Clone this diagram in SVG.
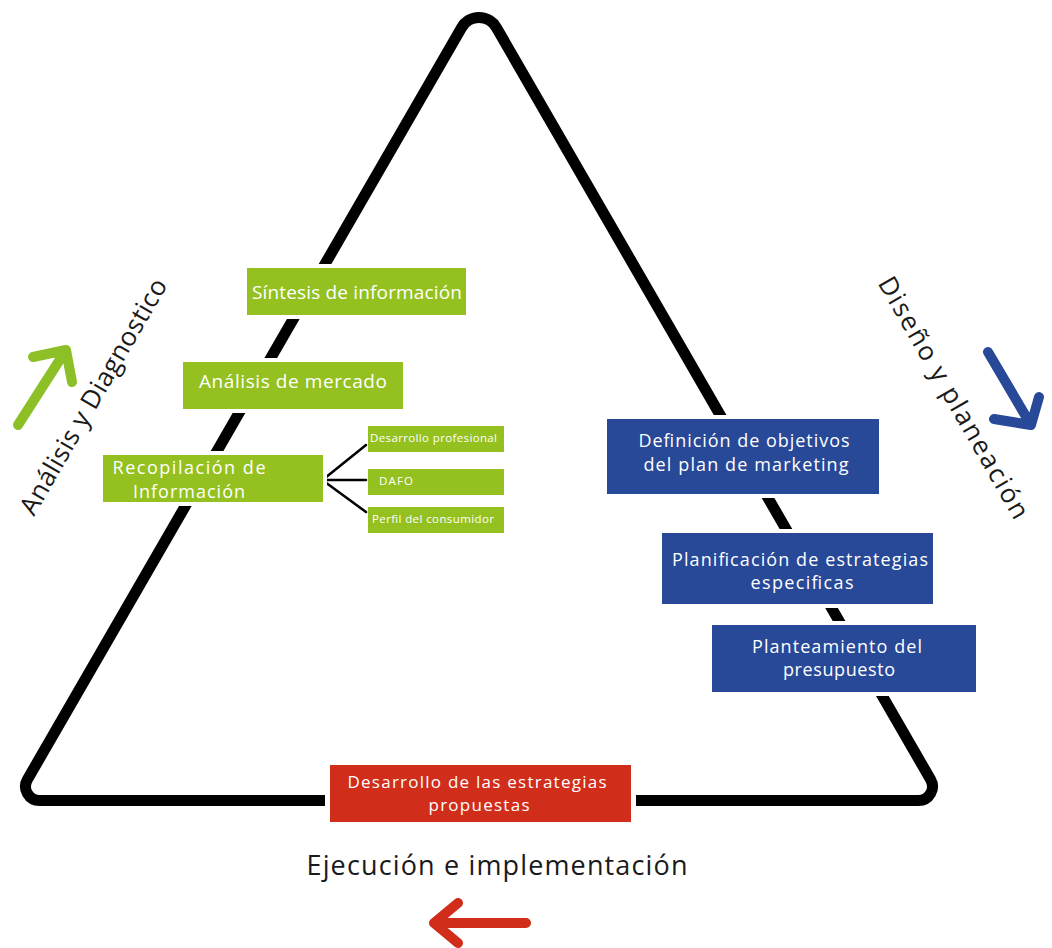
<svg xmlns="http://www.w3.org/2000/svg" width="1052" height="948" viewBox="0 0 1052 948">
<style>
.g{fill:#94c11f}
.b{fill:#284898}
.r{fill:#d02d1a}
.halo{fill:#fff}
.t{font-family:"Open Sans","Liberation Sans",sans-serif;fill:#fff}
.tl{font-family:"Open Sans","Liberation Sans",sans-serif;fill:#1a1a1a}
.arr{fill:none;stroke-width:10;stroke-linecap:round;stroke-linejoin:round}
</style>
<rect width="1052" height="948" fill="#fff"/>
<g id="triangle">
<path d="M461.68,27.4 A20,20 0 0 1 496.32,27.4 L930.58,779.5 A14,14 0 0 1 918.45,800.5 L39.55,800.5 A14,14 0 0 1 27.42,779.5 Z" fill="none" stroke="#000" stroke-width="11" stroke-linejoin="round"/>
</g>
<g id="connectors" stroke="#000" stroke-width="2.5" fill="none" stroke-linecap="round">
<line x1="325" y1="478" x2="366" y2="445"/>
<line x1="325" y1="480" x2="366" y2="480"/>
<line x1="325" y1="482" x2="366" y2="512"/>
</g>
<g id="sintesis">
<rect class="halo" x="243" y="264" width="227" height="55"/>
<rect class="g" x="247" y="268" width="219" height="47"/>
<text class="t" x="357" y="299" font-size="19" text-anchor="middle" textLength="210">Síntesis de información</text>
</g>
<g id="analisis-mercado">
<rect class="halo" x="179" y="358" width="228" height="55"/>
<rect class="g" x="183" y="362" width="220" height="47"/>
<text class="t" x="293" y="388" font-size="19" text-anchor="middle" textLength="188">Análisis de mercado</text>
</g>
<g id="recopilacion">
<rect class="halo" x="99" y="451" width="228" height="55"/>
<rect class="g" x="103" y="455" width="220" height="47"/>
<text class="t" x="189" y="474" font-size="18" text-anchor="middle" textLength="153">Recopilación de</text>
<text class="t" x="189" y="498" font-size="18" text-anchor="middle" textLength="112">Información</text>
</g>
<g id="desarrollo-profesional">
<rect class="g" x="368" y="426" width="136" height="26"/>
<text class="t" x="370" y="442" font-size="11.5" textLength="127">Desarrollo profesional</text>
</g>
<g id="dafo">
<rect class="g" x="368" y="469" width="136" height="26"/>
<text class="t" x="379" y="485" font-size="11.5" textLength="34">DAFO</text>
</g>
<g id="perfil">
<rect class="g" x="368" y="507" width="136" height="26"/>
<text class="t" x="372" y="523" font-size="11.5" textLength="122">Perfil del consumidor</text>
</g>
<g id="definicion">
<rect class="halo" x="603" y="415" width="280" height="83"/>
<rect class="b" x="607" y="419" width="272" height="75"/>
<text class="t" x="744" y="447" font-size="18" text-anchor="middle" textLength="211">Definición de objetivos</text>
<text class="t" x="746" y="471" font-size="18" text-anchor="middle" textLength="205">del plan de marketing</text>
</g>
<g id="planificacion">
<rect class="halo" x="658" y="529" width="279" height="79"/>
<rect class="b" x="662" y="533" width="271" height="71"/>
<text class="t" x="800" y="566" font-size="18" text-anchor="middle" textLength="256">Planificación de estrategias</text>
<text class="t" x="802" y="589" font-size="18" text-anchor="middle" textLength="103">especificas</text>
</g>
<g id="planteamiento">
<rect class="halo" x="708" y="621" width="272" height="75"/>
<rect class="b" x="712" y="625" width="264" height="67"/>
<text class="t" x="837" y="653" font-size="18" text-anchor="middle" textLength="170">Planteamiento del</text>
<text class="t" x="839" y="676" font-size="18" text-anchor="middle" textLength="112">presupuesto</text>
</g>
<g id="desarrollo-estrategias">
<rect class="halo" x="325" y="760" width="311" height="67"/>
<rect class="r" x="330" y="765" width="301" height="57"/>
<text class="t" x="477" y="788" font-size="17" text-anchor="middle" textLength="259">Desarrollo de las estrategias</text>
<text class="t" x="479" y="811" font-size="17" text-anchor="middle" textLength="101">propuestas</text>
</g>
<g id="label-analisis">
<text class="tl" x="101" y="401" font-size="26" text-anchor="middle" textLength="268" transform="rotate(-60 101 401)">Análisis y Diagnostico</text>
<path class="arr" stroke="#8dc026" d="M18,425 L66,350 M33,357 L66,350 L72,382"/>
</g>
<g id="label-diseno">
<text class="tl" x="946" y="402" font-size="26" text-anchor="middle" textLength="275" transform="rotate(60 946 402)">Diseño y planeación</text>
<path class="arr" stroke="#284898" d="M988,352 L1031,425 M994,419 L1031,425 L1039,397"/>
</g>
<g id="label-ejecucion">
<text class="tl" x="497" y="875" font-size="27" text-anchor="middle" textLength="381">Ejecución e implementación</text>
<path class="arr" stroke="#d02d1a" d="M526,923 L434,923 M458,903 L434,923 L458,943"/>
</g>
</svg>
